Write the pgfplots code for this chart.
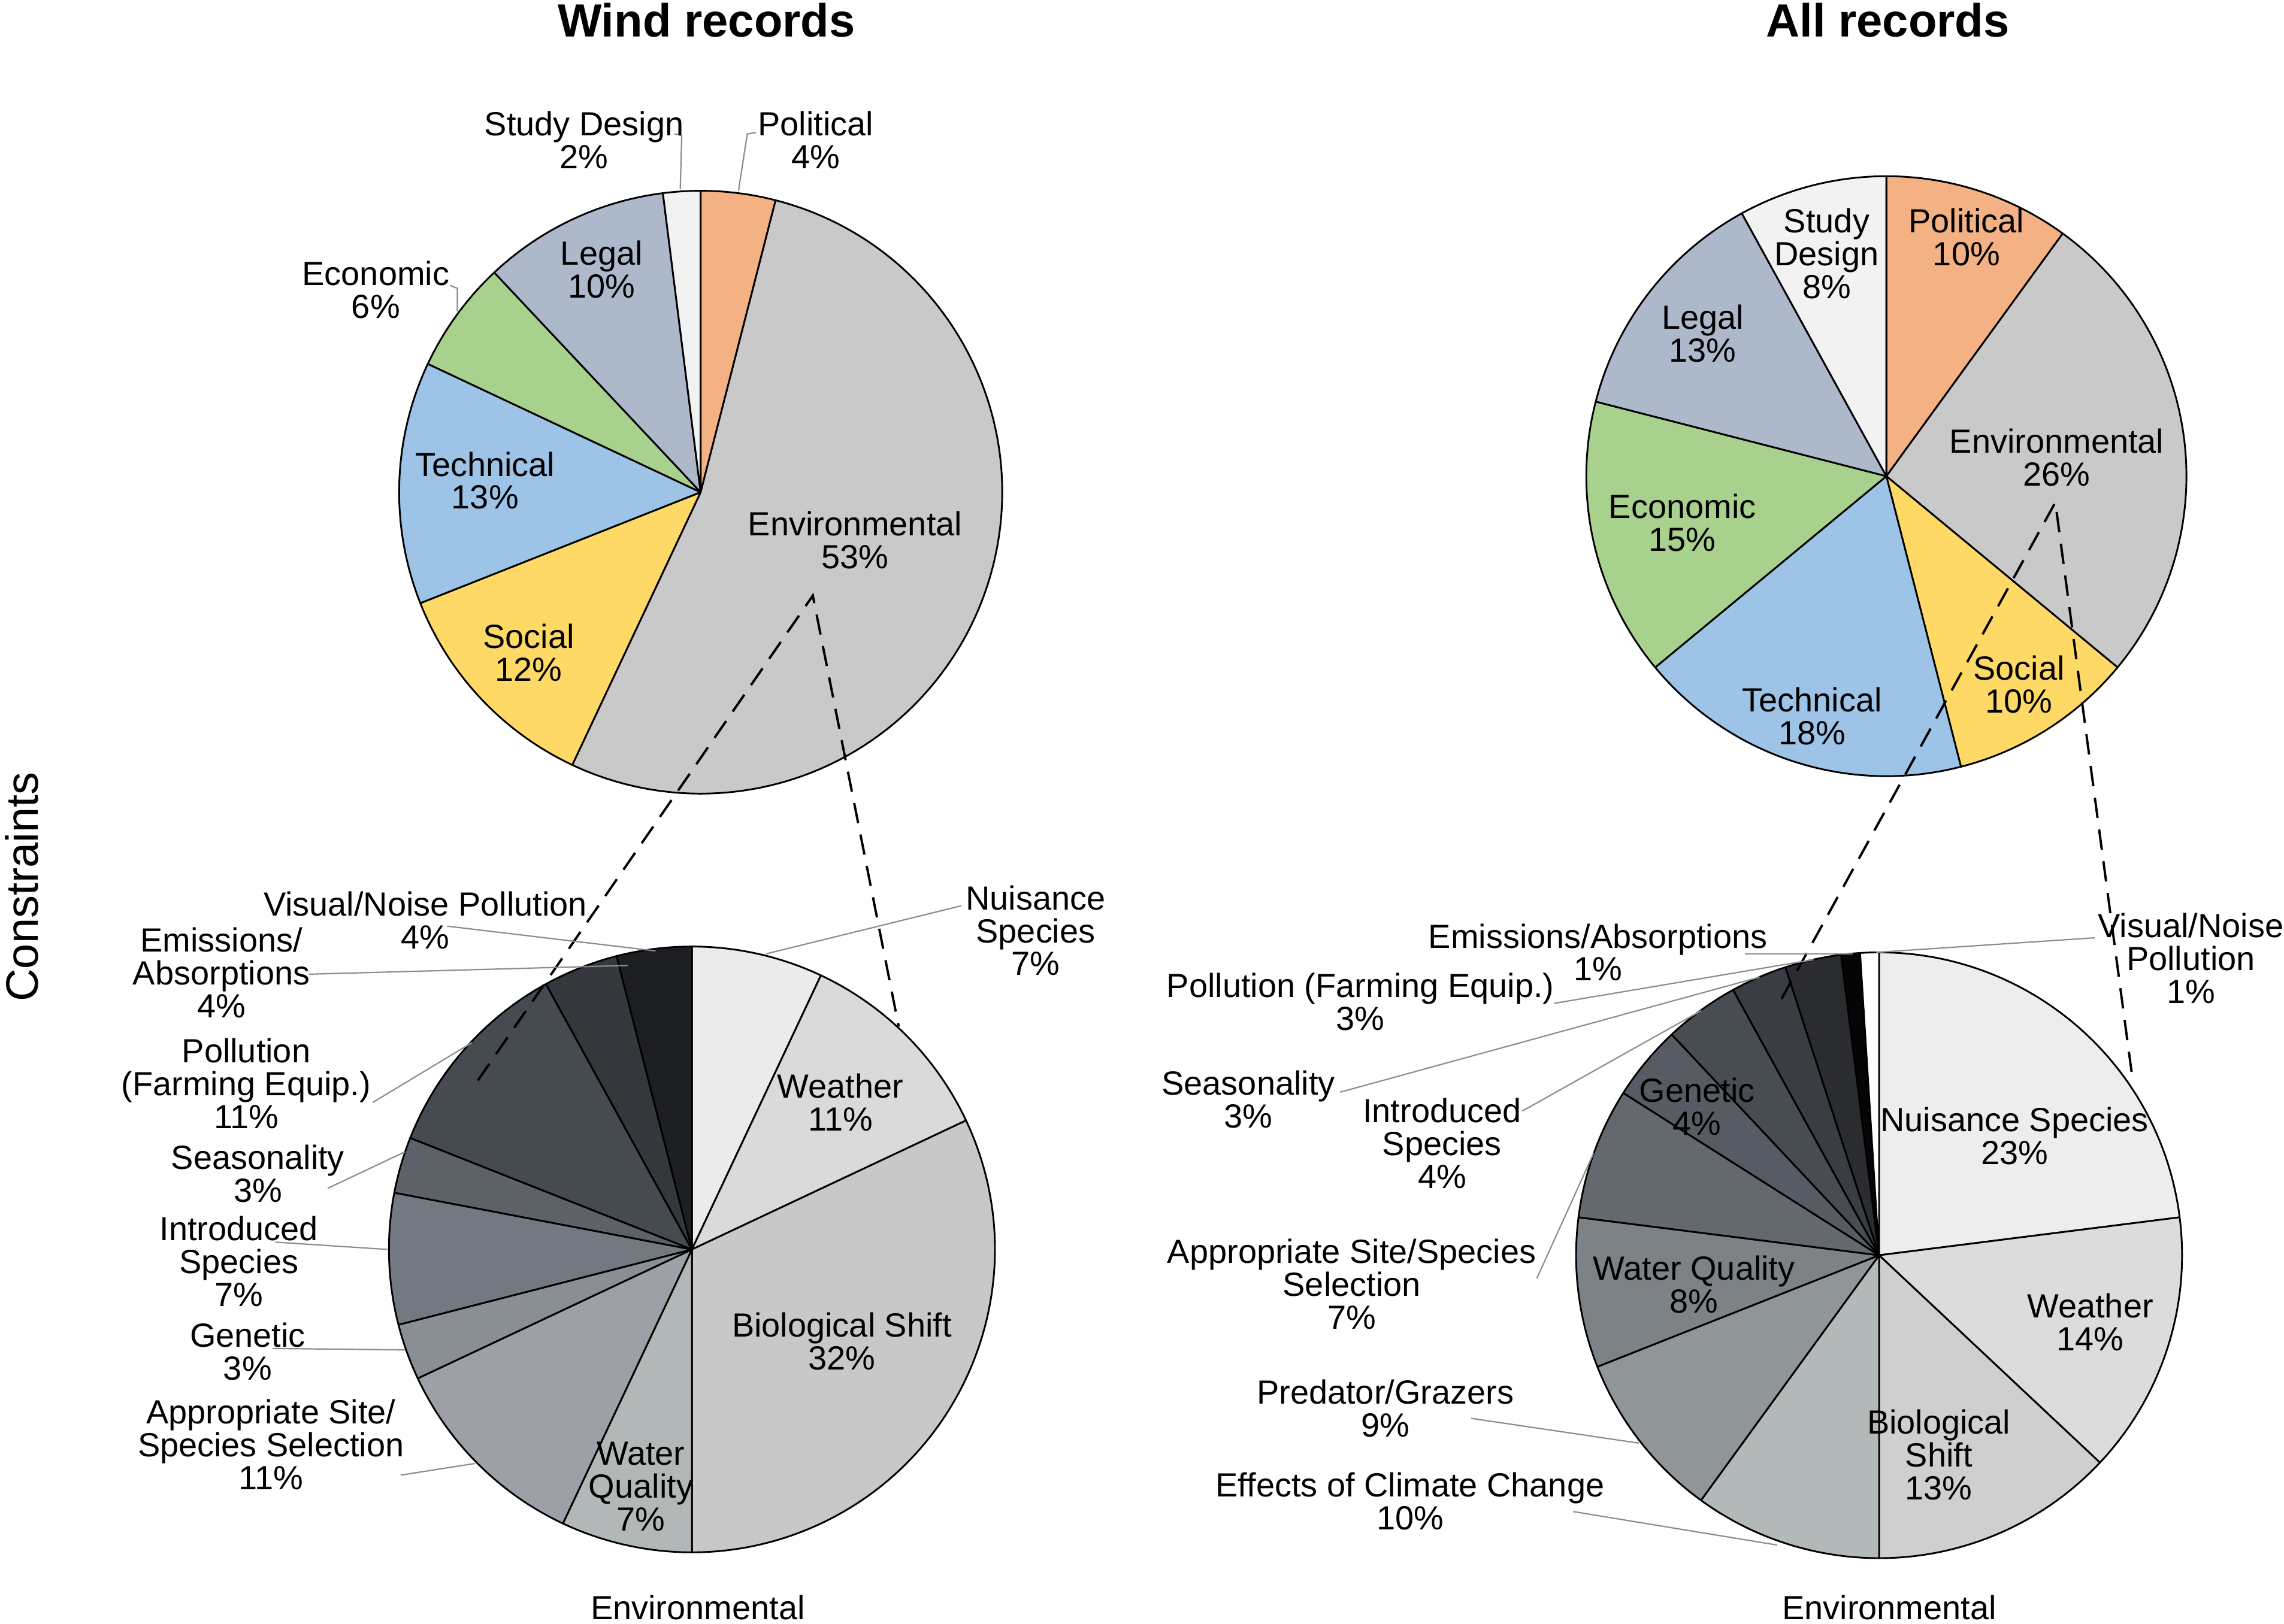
\documentclass[border=0pt]{standalone}
\usepackage{pgfplots}
\pgfplotsset{compat=1.18}
\usepackage{fontspec}
\setmainfont{Liberation Sans}

% top pies
\definecolor{cPol}{HTML}{F4B183}
\definecolor{cEnv}{HTML}{C9C9C9}
\definecolor{cSoc}{HTML}{FFD966}
\definecolor{cTec}{HTML}{9DC3E6}
\definecolor{cEco}{HTML}{A9D18E}
\definecolor{cLeg}{HTML}{ADB9CA}
\definecolor{cStu}{HTML}{F2F2F2}
% wind, environmental
\definecolor{w1}{HTML}{EBEBEB}
\definecolor{w2}{HTML}{DADADA}
\definecolor{w3}{HTML}{C8C8C8}
\definecolor{w4}{HTML}{B2B7B7}
\definecolor{w5}{HTML}{9DA1A7}
\definecolor{w6}{HTML}{8A8E95}
\definecolor{w7}{HTML}{737980}
\definecolor{w8}{HTML}{5D6269}
\definecolor{w9}{HTML}{464A51}
\definecolor{w10}{HTML}{34373C}
\definecolor{w11}{HTML}{1C1E21}
% all, environmental
\definecolor{a1}{HTML}{EDEDED}
\definecolor{a2}{HTML}{DCDCDC}
\definecolor{a3}{HTML}{CFCFCF}
\definecolor{a4}{HTML}{B3B8B8}
\definecolor{a5}{HTML}{909598}
\definecolor{a6}{HTML}{7D8286}
\definecolor{a7}{HTML}{64686F}
\definecolor{a8}{HTML}{575B63}
\definecolor{a9}{HTML}{484C53}
\definecolor{a10}{HTML}{3A3D43}
\definecolor{a11}{HTML}{2A2C30}
\definecolor{a12}{HTML}{050505}
\definecolor{a13}{HTML}{FFFFFF}

% pie: centre x, centre y, radius, list of value/colour, clockwise from 12 o'clock
\newcommand\pie[4]{%
  \gdef\cum{0}%
  \foreach \v/\col in {#4} {%
    \pgfmathsetmacro\a{90-3.6*\cum}%
    \pgfmathsetmacro\b{90-3.6*(\cum+\v)}%
    \edef\temp{\noexpand\filldraw[fill=\col,draw=black,line width=0.6pt,line join=round]
      (axis cs:#1,#2) -- ++(\a:#3) arc[start angle=\a,end angle=\b,radius=#3] -- cycle;}%
    \temp
    \pgfmathsetmacro\nextcum{\cum+\v}%
    \global\let\cum\nextcum
  }%
}

\begin{document}
\begin{tikzpicture}[
  lbl/.style={align=center, inner sep=0pt, font=\fontsize{11.5}{11.3}\selectfont},
  lead/.style={draw=black!45, line width=0.45pt},
  zoomline/.style={draw=black, line width=0.8pt, dash pattern=on 7pt off 4pt},
]
\begin{axis}[
  hide axis,
  scale only axis,
  width=784pt, height=557.5pt,
  xmin=0, xmax=1568, ymin=0, ymax=1115,
  y dir=reverse,
  clip=false,
]
\path (axis cs:0,0) rectangle (axis cs:1568,1115);

% Wind records
\pie{481}{338}{103.5pt}{4/cPol, 53/cEnv, 12/cSoc, 13/cTec, 6/cEco, 10/cLeg, 2/cStu}
\pie{475}{858}{104pt}{7/w1, 11/w2, 32/w3, 7/w4, 11/w5, 3/w6, 7/w7, 3/w8, 11/w9, 4/w10, 4/w11}
% All records
\pie{1295}{327}{103pt}{10/cPol, 26/cEnv, 10/cSoc, 18/cTec, 15/cEco, 13/cLeg, 8/cStu}
\pie{1290}{862}{104pt}{23/a1, 14/a2, 13/a3, 10/a4, 9/a5, 8/a6, 7/a7, 4/a8, 4/a9, 3/a10, 3/a11, 1/a12, 1/a13}

% zoom lines
\draw[zoomline] (axis cs:328,742) -- (axis cs:558,409) -- (axis cs:617,705);
\draw[zoomline] (axis cs:1223,686) -- (axis cs:1411,345) -- (axis cs:1464,741);

% leader lines
\draw[lead] (axis cs:463,92) -- (axis cs:468,93) -- (axis cs:467,130);
\draw[lead] (axis cs:519,91) -- (axis cs:513,92) -- (axis cs:507,131);
\draw[lead] (axis cs:309,196) -- (axis cs:314,198) -- (axis cs:314,214);

\draw[lead] (axis cs:307,636) -- (axis cs:450,653);
\draw[lead] (axis cs:212,669) -- (axis cs:431,663);
\draw[lead] (axis cs:256,757) -- (axis cs:324,716);
\draw[lead] (axis cs:225,816) -- (axis cs:278,791);
\draw[lead] (axis cs:189,853) -- (axis cs:266,858);
\draw[lead] (axis cs:187,926) -- (axis cs:278,927);
\draw[lead] (axis cs:275,1013) -- (axis cs:326,1005);
\draw[lead] (axis cs:526,655) -- (axis cs:660,622);

\draw[lead] (axis cs:1198,655) -- (axis cs:1272,655);
\draw[lead] (axis cs:1067,689) -- (axis cs:1245,659);
\draw[lead] (axis cs:920,750) -- (axis cs:1208,671);
\draw[lead] (axis cs:1045,763) -- (axis cs:1168,694);
\draw[lead] (axis cs:1438,644) -- (axis cs:1288,654);
\draw[lead] (axis cs:1055,878) -- (axis cs:1094,792);
\draw[lead] (axis cs:1010,974) -- (axis cs:1125,991);
\draw[lead] (axis cs:1080,1038) -- (axis cs:1220,1061);

% titles
\node[font=\fontsize{16}{19}\selectfont\bfseries, inner sep=0pt] at (axis cs:485,14) {Wind records};
\node[font=\fontsize{16}{19}\selectfont\bfseries, inner sep=0pt] at (axis cs:1296,14) {All records};
\node[font=\fontsize{15.6}{18}\selectfont, inner sep=0pt, rotate=90] at (axis cs:15,609) {Constraints};

% wind, top
\node[lbl] at (axis cs:401,96) {Study Design\\2\%};
\node[lbl] at (axis cs:560,96) {Political\\4\%};
\node[lbl] at (axis cs:413,185) {Legal\\10\%};
\node[lbl] at (axis cs:258,199) {Economic\\6\%};
\node[lbl] at (axis cs:333,330) {Technical\\13\%};
\node[lbl] at (axis cs:363,448) {Social\\12\%};
\node[lbl] at (axis cs:587,371) {Environmental\\53\%};
% wind, bottom
\node[lbl] at (axis cs:292,632) {Visual/Noise Pollution\\4\%};
\node[lbl] at (axis cs:152,668) {Emissions/\\Absorptions\\4\%};
\node[lbl] at (axis cs:169,744) {Pollution\\(Farming Equip.)\\11\%};
\node[lbl] at (axis cs:177,806) {Seasonality\\3\%};
\node[lbl] at (axis cs:164,866) {Introduced\\Species\\7\%};
\node[lbl] at (axis cs:170,928) {Genetic\\3\%};
\node[lbl] at (axis cs:186,992) {Appropriate Site/\\Species Selection\\11\%};
\node[lbl] at (axis cs:711,639) {Nuisance\\Species\\7\%};
\node[lbl] at (axis cs:577,757) {Weather\\11\%};
\node[lbl] at (axis cs:578,921) {Biological Shift\\32\%};
\node[lbl] at (axis cs:440,1021) {Water\\Quality\\7\%};
\node[lbl] at (axis cs:479,1104) {Environmental};

% all, top
\node[lbl] at (axis cs:1254,174) {Study\\Design\\8\%};
\node[lbl] at (axis cs:1350,163) {Political\\10\%};
\node[lbl] at (axis cs:1169,229) {Legal\\13\%};
\node[lbl] at (axis cs:1412,314) {Environmental\\26\%};
\node[lbl] at (axis cs:1155,359) {Economic\\15\%};
\node[lbl] at (axis cs:1244,492) {Technical\\18\%};
\node[lbl] at (axis cs:1386,470) {Social\\10\%};
% all, bottom
\node[lbl] at (axis cs:1097,654) {Emissions/Absorptions\\1\%};
\node[lbl] at (axis cs:934,688) {Pollution (Farming Equip.)\\3\%};
\node[lbl] at (axis cs:857,755) {Seasonality\\3\%};
\node[lbl] at (axis cs:990,785) {Introduced\\Species\\4\%};
\node[lbl] at (axis cs:1504,658) {Visual/Noise\\Pollution\\1\%};
\node[lbl] at (axis cs:1165,760) {Genetic\\4\%};
\node[lbl] at (axis cs:1163,882) {Water Quality\\8\%};
\node[lbl] at (axis cs:928,882) {Appropriate Site/Species\\Selection\\7\%};
\node[lbl] at (axis cs:951,967) {Predator/Grazers\\9\%};
\node[lbl] at (axis cs:968,1031) {Effects of Climate Change\\10\%};
\node[lbl] at (axis cs:1383,780) {Nuisance Species\\23\%};
\node[lbl] at (axis cs:1435,908) {Weather\\14\%};
\node[lbl] at (axis cs:1331,999) {Biological\\Shift\\13\%};
\node[lbl] at (axis cs:1297,1104) {Environmental};
\end{axis}
\end{tikzpicture}
\end{document}
